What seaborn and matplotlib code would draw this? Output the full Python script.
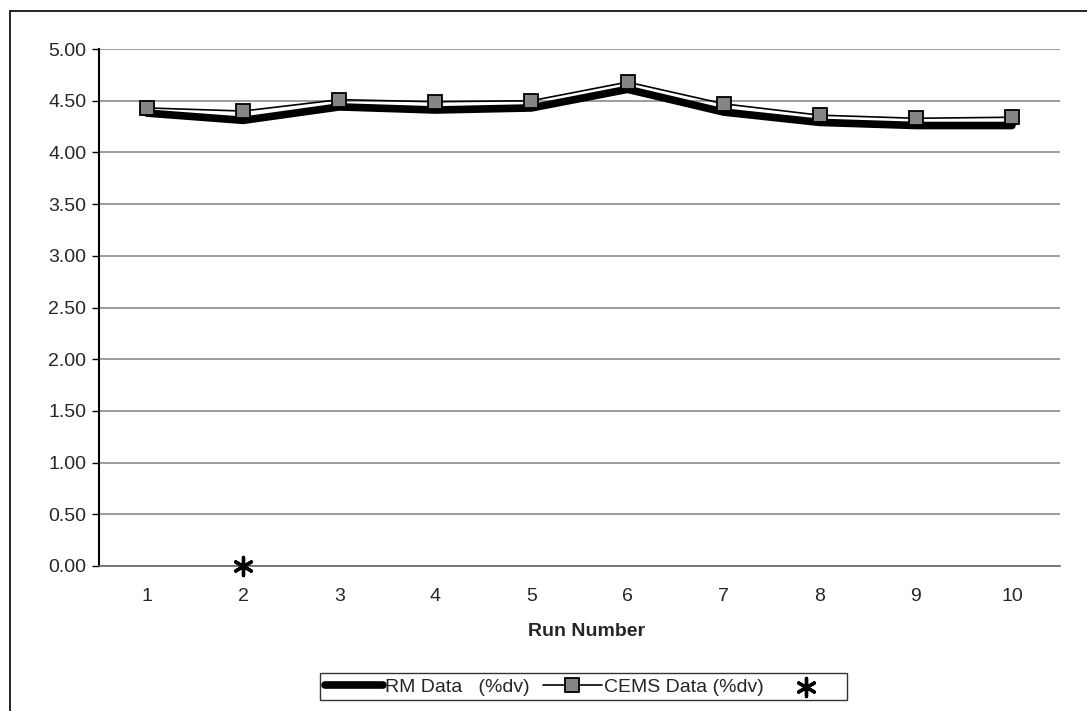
import matplotlib
matplotlib.use("Agg")
import matplotlib.pyplot as plt
import seaborn as sns
import pandas as pd
from matplotlib.patches import Rectangle

runs = [1, 2, 3, 4, 5, 6, 7, 8, 9, 10]
rm_data = [4.38, 4.31, 4.44, 4.41, 4.43, 4.61, 4.39, 4.29, 4.26, 4.26]
cems_data = [4.43, 4.40, 4.51, 4.49, 4.50, 4.68, 4.47, 4.36, 4.33, 4.34]
extra_x = [2]
extra_y = [0.0]
yticks = [0.0, 0.5, 1.0, 1.5, 2.0, 2.5, 3.0, 3.5, 4.0, 4.5, 5.0]

sns.set_style("white")
plt.rcParams['font.family'] = ['Liberation Sans', 'DejaVu Sans']

FS = 14

df = pd.DataFrame({"run": runs, "rm": rm_data, "cems": cems_data})
df_x = pd.DataFrame({"run": extra_x, "val": extra_y})

fig = plt.figure(figsize=(10.87, 7.11), dpi=100)
ax = fig.add_axes([99/1087, 1-566/711, (1060-99)/1087, (566-49)/711])

sns.lineplot(data=df, x="run", y="rm", ax=ax, color="black", linewidth=5.5,
             label="RM Data   (%dv)", zorder=3, solid_capstyle="round")
sns.lineplot(data=df, x="run", y="cems", ax=ax, color="black", linewidth=1.2,
             marker="s", markersize=10.5, markerfacecolor="#858585",
             markeredgecolor="black", markeredgewidth=1.3,
             label="CEMS Data (%dv)", zorder=4)
sns.scatterplot(data=df_x, x="run", y="val", ax=ax, marker=(6, 2, 0), s=170,
                color="black", linewidth=2.4, label=" ", zorder=5, clip_on=False)

ax.set_xlim(0.5, 10.5)
ax.set_ylim(0, 5)
ax.set_yticks(yticks)
ax.set_yticklabels([f"{v:.2f}" for v in yticks])
ax.set_xticks(runs)
ax.set_xticks([r - 0.5 for r in runs] + [10.5], minor=True)
ax.tick_params(axis='x', which='major', length=0, labelsize=FS, pad=16)
ax.tick_params(axis='x', which='minor', length=5, width=1, color='black', direction='out')
ax.tick_params(axis='y', which='major', length=5, width=1, color='black',
               direction='out', labelsize=FS, pad=4, left=True)
ax.yaxis.grid(True, color="#8c8c8c", linewidth=1.2)
ax.xaxis.grid(False)
ax.set_axisbelow(True)
for s in ["top", "right"]:
    ax.spines[s].set_visible(False)
ax.spines["left"].set_color("black")
ax.spines["left"].set_linewidth(1.5)
ax.spines["bottom"].set_color("#666666")
ax.spines["bottom"].set_linewidth(1.2)

ax.set_xlabel("Run Number", fontsize=FS, fontweight="bold")
ax.xaxis.set_label_coords(0.507, -0.11)
ax.set_ylabel("")

handles, labels = ax.get_legend_handles_labels()
ax.get_legend().remove()
leg = fig.legend(handles, labels, loc="center", bbox_to_anchor=(0.537, 0.034),
                 ncol=3, frameon=True, fancybox=False, fontsize=FS,
                 handlelength=3.0, handletextpad=0.1, columnspacing=0.7,
                 borderpad=0.25, borderaxespad=0, edgecolor="black")
leg.get_frame().set_linewidth(1.0)

fig.patches.append(Rectangle((10/1087, -0.1), 1.2, 1 - 11/711 + 0.1,
                             transform=fig.transFigure, fill=False,
                             edgecolor="black", linewidth=1.2))

fig.savefig("out.png", dpi=100)
